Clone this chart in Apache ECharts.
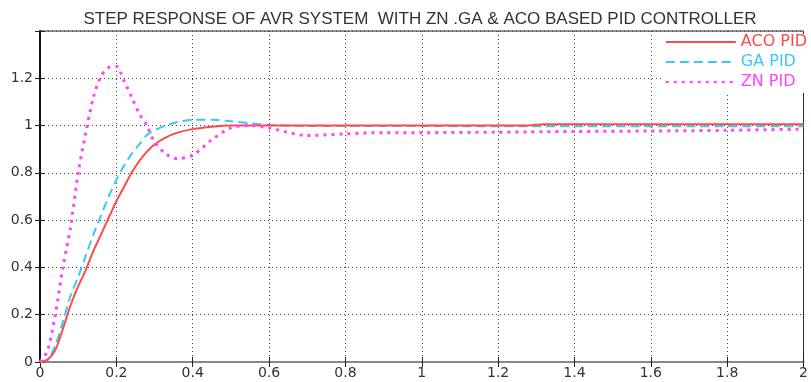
<!DOCTYPE html>
<html>
<head>
<meta charset="utf-8">
<script src="https://cdn.jsdelivr.net/npm/echarts@6/dist/echarts.min.js"></script>
<style>
  html, body { margin: 0; padding: 0; background: #fff; }
  #chart { width: 811px; height: 382px; }
</style>
</head>
<body>
<div id="chart"></div>
<script>
// time axis (s)
const time = [0, 0.02, 0.04, 0.06, 0.08, 0.1, 0.12, 0.14, 0.16, 0.18, 0.2, 0.22, 0.24, 0.26, 0.28, 0.3,
	0.33, 0.36, 0.4, 0.45, 0.5, 0.55, 0.6, 0.7, 0.8, 0.9, 1.0, 1.2, 1.28, 1.32, 1.4, 1.6, 1.8, 2.0];

const acoPid = [0, 0.01, 0.05, 0.14, 0.24, 0.32, 0.39, 0.47, 0.54, 0.61, 0.68, 0.74, 0.8, 0.85, 0.89, 0.92,
	0.95, 0.97, 0.985, 0.995, 1.0, 1.0, 1.0, 1.0, 1.0, 1.0, 1.0, 1.0, 1.0, 1.006, 1.006, 1.006, 1.006, 1.006];

const gaPid = [0, 0.01, 0.07, 0.17, 0.28, 0.36, 0.45, 0.54, 0.62, 0.7, 0.77, 0.83, 0.88, 0.92, 0.96, 0.98,
	1.0, 1.015, 1.025, 1.025, 1.018, 1.01, 1.003, 0.998, 0.998, 0.998, 0.998, 0.997, 0.997, 0.997, 0.997, 0.997, 0.997, 0.997];

const znPid = [0, 0.05, 0.2, 0.4, 0.57, 0.8, 0.97, 1.12, 1.21, 1.245, 1.25, 1.19, 1.12, 1.05, 1.0, 0.93,
	0.88, 0.86, 0.875, 0.94, 0.99, 1.0, 0.99, 0.958, 0.965, 0.97, 0.97, 0.972, 0.973, 0.974, 0.975, 0.977, 0.98, 0.985];

const xTicks = ['0', '0.2', '0.4', '0.6', '0.8', '1', '1.2', '1.4', '1.6', '1.8', '2'];
const yTicks = ['0', '0.2', '0.4', '0.6', '0.8', '1', '1.2', ''];

const pairs = (ys) => time.map((t, i) => [t, ys[i]]);

const chart = echarts.init(document.getElementById('chart'), null, { renderer: 'canvas' });

const gridLine = { show: true, lineStyle: { color: '#444', type: [1, 3], width: 1 } };
const labelFont = { fontFamily: 'DejaVu Sans, sans-serif', fontSize: 14, color: '#333' };
const tick = { show: true, inside: true, length: 5, lineStyle: { color: '#222' } };

const option = {
	animation: false,
	backgroundColor: '#fff',
	title: {
		text: 'STEP RESPONSE OF AVR SYSTEM  WITH ZN .GA & ACO BASED PID CONTROLLER',
		left: 415,
		textAlign: 'center',
		top: 6,
		textStyle: {
			fontFamily: 'Liberation Sans, Arial, sans-serif',
			fontSize: 17,
			fontWeight: 'normal',
			color: '#333',
		},
	},
	grid: {
		left: 40,
		right: 2,
		top: 31,
		bottom: 20,
		show: true,
		borderColor: '#222',
		borderWidth: 1,
	},
	legend: {
		orient: 'vertical',
		right: 4,
		top: 34,
		itemWidth: 70,
		itemHeight: 14,
		itemGap: 4,
		backgroundColor: '#fff',
		padding: [0, 0, 3, 2],
		itemStyle: { opacity: 0 },
		textStyle: { fontFamily: 'DejaVu Sans, sans-serif', fontSize: 16 },
		data: [
			{ name: 'ACO PID', textStyle: { color: '#ff4a4a' } },
			{ name: 'GA PID', textStyle: { color: '#3cc8f4' } },
			{ name: 'ZN PID', textStyle: { color: '#ff44ff' } },
		],
	},
	xAxis: [
		{
			type: 'value',
			min: 0,
			max: 2,
			interval: 0.2,
			axisLine: { show: true, onZero: false, lineStyle: { color: '#888', width: 2 } },
			axisTick: tick,
			axisLabel: { ...labelFont, margin: 4, formatter: (v) => xTicks[Math.round(v / 0.2)] },
			splitLine: gridLine,
		},
		{
			type: 'value',
			position: 'top',
			min: 0,
			max: 2,
			interval: 0.2,
			axisLine: { show: false },
			axisTick: tick,
			axisLabel: { show: false },
			splitLine: { show: false },
		},
	],
	yAxis: [
		{
			type: 'value',
			min: 0,
			max: 1.4,
			interval: 0.2,
			axisLine: { show: true, lineStyle: { color: '#111', width: 2 } },
			axisTick: tick,
			axisLabel: { ...labelFont, margin: 7, formatter: (v) => yTicks[Math.round(v / 0.2)] },
			splitLine: gridLine,
		},
		{
			type: 'value',
			position: 'right',
			min: 0,
			max: 1.4,
			interval: 0.2,
			axisLine: { show: true, lineStyle: { color: '#111', width: 1 } },
			axisTick: tick,
			axisLabel: { show: false },
			splitLine: { show: false },
		},
	],
	series: [
		{
			name: 'ACO PID',
			type: 'line',
			data: pairs(acoPid),
			smooth: 0.3,
			symbol: 'none',
			lineStyle: { color: '#ff4a4a', width: 2 },
			itemStyle: { color: '#ff4a4a' },
			z: 4,
		},
		{
			name: 'GA PID',
			type: 'line',
			data: pairs(gaPid),
			smooth: 0.3,
			symbol: 'none',
			lineStyle: { color: '#3cc8f4', width: 2, type: [9, 5] },
			itemStyle: { color: '#3cc8f4' },
			z: 3,
		},
		{
			name: 'ZN PID',
			type: 'line',
			data: pairs(znPid),
			smooth: 0.3,
			symbol: 'none',
			lineStyle: { color: '#ff44ff', width: 3, type: [3, 5] },
			itemStyle: { color: '#ff44ff' },
			z: 5,
		},
	],
};

option && chart.setOption(option);
</script>
</body>
</html>
